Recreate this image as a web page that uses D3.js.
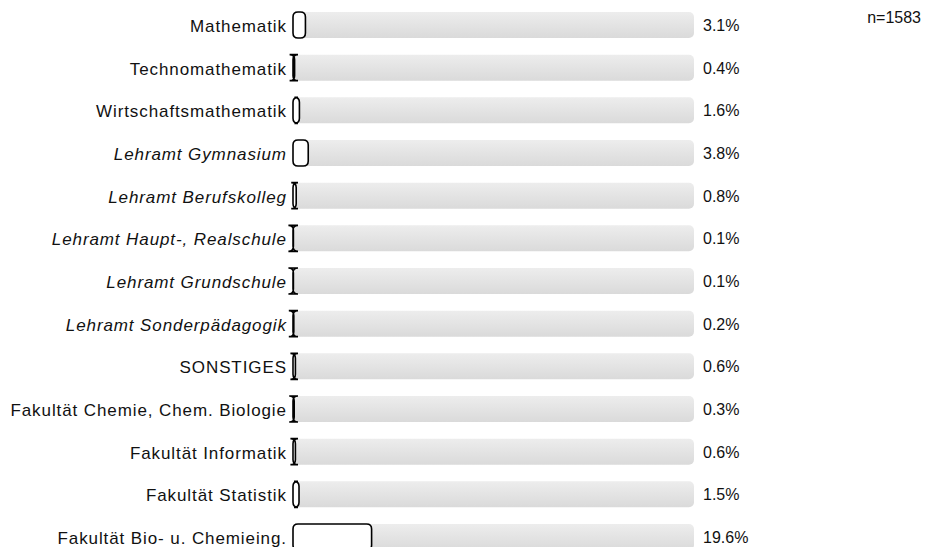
<!DOCTYPE html>
<html>
<head>
<meta charset="utf-8">
<script src="https://cdn.jsdelivr.net/npm/d3@7"></script>
<style>
  body { margin: 0; background: #fff; }
  svg { display: block; font-family: "Liberation Sans", Arial, sans-serif; }
</style>
</head>
<body>
<div id="chart"></div>
<script>
var categories = [
  "Mathematik", "Technomathematik", "Wirtschaftsmathematik",
  "Lehramt Gymnasium", "Lehramt Berufskolleg", "Lehramt Haupt-, Realschule",
  "Lehramt Grundschule", "Lehramt Sonderpädagogik", "SONSTIGES",
  "Fakultät Chemie, Chem. Biologie", "Fakultät Informatik",
  "Fakultät Statistik", "Fakultät Bio- u. Chemieing."
]
var italic = [false, false, false, true, true, true, true, true, false, false, false, false, false]
var values = [3.1, 0.4, 1.6, 3.8, 0.8, 0.1, 0.1, 0.2, 0.6, 0.3, 0.6, 1.5, 19.6]
var total = "n=1583"

var width = 936, height = 547
var svg = d3.select('#chart').append('svg')
  .attr('width', width)
  .attr('height', height)

var defs = svg.append('defs')
var grad = defs.append('linearGradient')
  .attr('id', 'track')
  .attr('x1', 0).attr('y1', 0).attr('x2', 0).attr('y2', 1)
grad.append('stop').attr('offset', '0%').attr('stop-color', '#ededed')
grad.append('stop').attr('offset', '100%').attr('stop-color', '#dadada')

var x = d3.scaleLinear().domain([0, 100]).range([293, 694])
var y = d3.scalePoint().domain(categories).range([25, 537])
var barH = 26, r = 5

// rounded rect that is not clamped, so thin bars get the serif look
function roundBar(x0, y0, w, h) {
  return 'M' + (x0 + r) + ',' + y0 +
    'L' + (x0 + w - r) + ',' + y0 +
    'Q' + (x0 + w) + ',' + y0 + ',' + (x0 + w) + ',' + (y0 + r) +
    'L' + (x0 + w) + ',' + (y0 + h - r) +
    'Q' + (x0 + w) + ',' + (y0 + h) + ',' + (x0 + w - r) + ',' + (y0 + h) +
    'L' + (x0 + r) + ',' + (y0 + h) +
    'Q' + x0 + ',' + (y0 + h) + ',' + x0 + ',' + (y0 + h - r) +
    'L' + x0 + ',' + (y0 + r) +
    'Q' + x0 + ',' + y0 + ',' + (x0 + r) + ',' + y0 + 'Z'
}

var rows = svg.selectAll('g.row')
  .data(categories)
  .enter().append('g')
  .attr('class', 'row')
  .attr('transform', function (d) { return 'translate(0,' + y(d) + ')' })

rows.append('rect')
  .attr('x', x(0))
  .attr('y', -barH / 2)
  .attr('width', x(100) - x(0))
  .attr('height', barH)
  .attr('rx', r)
  .attr('fill', 'url(#track)')

rows.append('path')
  .attr('d', function (d, i) {
    return roundBar(x(0), -barH / 2, x(values[i]) - x(0), barH)
  })
  .attr('fill', '#fff')
  .attr('stroke', '#000')
  .attr('stroke-width', 1.6)

rows.append('text')
  .attr('x', 286.9)
  .attr('y', 7)
  .attr('text-anchor', 'end')
  .attr('font-size', 17)
  .attr('letter-spacing', 0.9)
  .attr('font-style', function (d, i) { return italic[i] ? 'italic' : 'normal' })
  .attr('fill', '#111')
  .text(function (d) { return d })

rows.append('text')
  .attr('x', 703)
  .attr('y', 6)
  .attr('font-size', 16)
  .attr('fill', '#111')
  .text(function (d, i) { return values[i].toFixed(1) + '%' })

svg.append('text')
  .attr('x', 921)
  .attr('y', 23)
  .attr('text-anchor', 'end')
  .attr('font-size', 16)
  .attr('fill', '#111')
  .text(total)
</script>
</body>
</html>
